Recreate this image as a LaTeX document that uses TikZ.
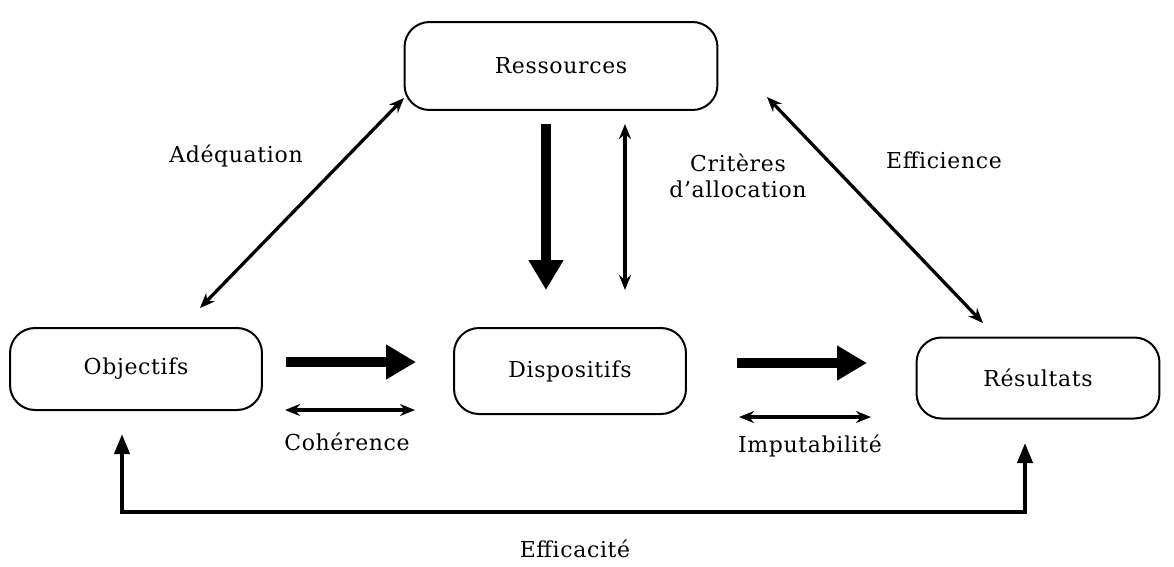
\documentclass[tikz,border=0pt]{standalone}
\usepackage{fontspec}
\setmainfont{DejaVu Serif}[LetterSpace=3]
\usetikzlibrary{arrows.meta}

\begin{document}
\begin{tikzpicture}[
    x=0.02cm, y=-0.02cm,
    box/.style={
        draw,
        line width=0.04cm,
        rounded corners=0.5cm,
        font=\fontsize{12.5}{15}\selectfont
    },
    flow/.style={
        line width=0.2cm,
        -{Triangle[length=0.6cm,width=0.66cm]}
    },
    link/.style={
        line width=0.065cm,
        {Stealth[length=0.3cm,width=0.24cm]}-{Stealth[length=0.3cm,width=0.24cm]}
    },
    lbl/.style={font=\fontsize{12.5}{15}\selectfont}
]
\useasboundingbox (0,0) rectangle (1174,566);

% Boxes
\node[box, minimum width=6.26cm, minimum height=1.76cm] (res) at (561,66) {Ressources};
\node[box, minimum width=5.04cm, minimum height=1.64cm] (obj) at (136,369) {Objectifs};
\node[box, minimum width=4.64cm, minimum height=1.72cm] (dis) at (570,371) {Dispositifs};
\node[box, minimum width=4.86cm, minimum height=1.62cm] (resu) at (1038,378) {R\'esultats};

% Ends of the slanted and vertical links
\coordinate (adqA) at (404,98);
\coordinate (adqB) at (200,308);
\coordinate (effA) at (767,97);
\coordinate (effB) at (983,323);
\coordinate (allA) at (546,124);
\coordinate (allB) at (546,290);
\coordinate (criA) at (625,124);
\coordinate (criB) at (625,290);

% Upper links
\draw[link] (adqA) -- (adqB);
\draw[link] (effA) -- (effB);
\draw[flow] (allA) -- (allB);
\draw[link] (criA) -- (criB);
\node[lbl] (adq) at (236,156) {Ad\'equation};
\node[lbl] (eff) at (944,160) {Efficience};
\node[lbl, align=center] (cri) at (738,176) {Crit\`eres\\d'allocation};

% Lower links
\coordinate (obA) at (286,362);
\coordinate (obB) at (416,362);
\coordinate (coA) at (285,410);
\coordinate (coB) at (415,410);
\coordinate (diA) at (737,363);
\coordinate (diB) at (867,363);
\coordinate (imA) at (739,417);
\coordinate (imB) at (871,417);
\draw[flow] (obA) -- (obB);
\draw[link] (coA) -- (coB);
\draw[flow] (diA) -- (diB);
\draw[link] (imA) -- (imB);
\node[lbl] (coh) at (347,442) {Coh\'erence};
\node[lbl] (imp) at (810,446) {Imputabilit\'e};

% Bottom loop
\coordinate (loopA) at (122,434);
\coordinate (loopB) at (1025,443);
\draw[line width=0.08cm, {Triangle[length=0.4cm,width=0.3cm]}-{Triangle[length=0.4cm,width=0.3cm]}]
    (loopA) -- (122,512) -- (1025,512) -- (loopB);
\node[lbl] (efc) at (575,549) {Efficacit\'e};

\end{tikzpicture}
\end{document}
